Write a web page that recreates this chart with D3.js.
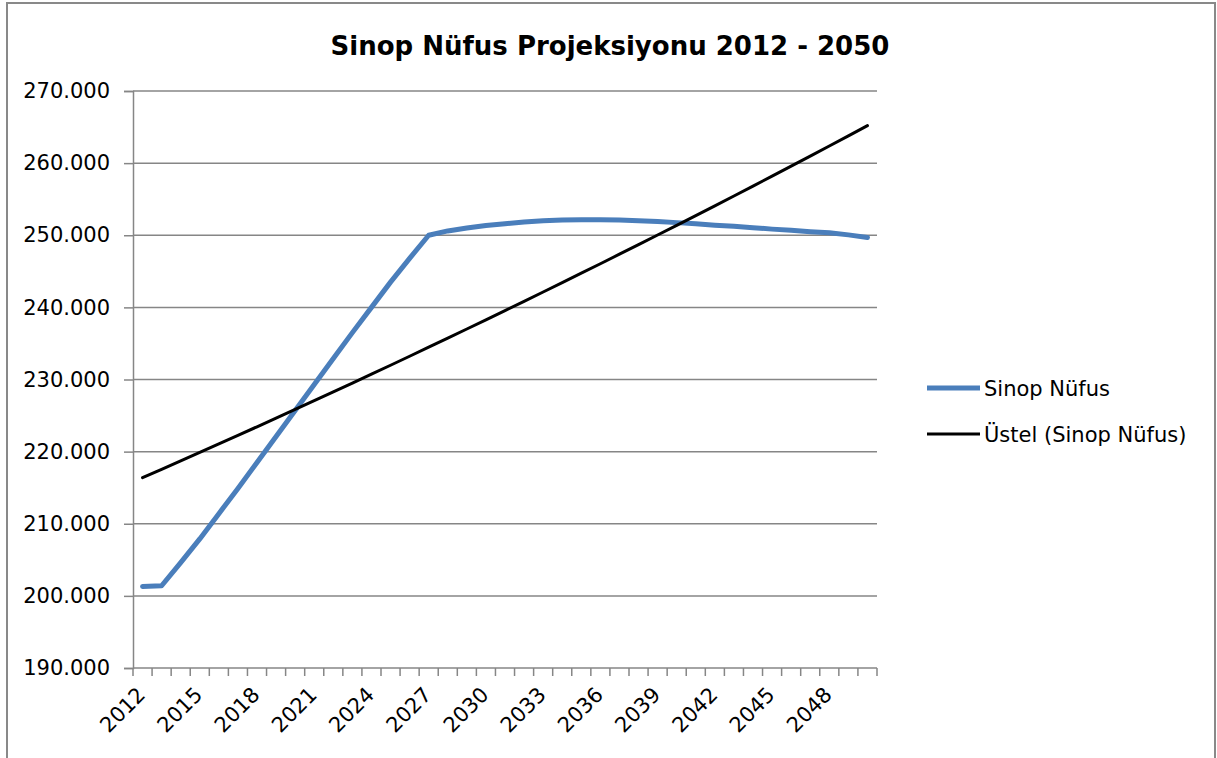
<!DOCTYPE html>
<html>
<head>
<meta charset="utf-8">
<script src="https://cdn.jsdelivr.net/npm/d3@7"></script>
<style>
  html, body { margin: 0; padding: 0; background: #fff; }
  svg { display: block; }
  text { font-family: "DejaVu Sans", Verdana, sans-serif; fill: #000; }
</style>
</head>
<body>
<svg id="chart" width="1217" height="758"></svg>
<script>
// years 2012..2050
const years = d3.range(2012, 2051);
const tickYears = [2012, 2015, 2018, 2021, 2024, 2027, 2030, 2033, 2036, 2039, 2042, 2045, 2048];
const yTicks = [190000, 200000, 210000, 220000, 230000, 240000, 250000, 260000, 270000];

// population
const population = [
  201300, 201400, 204600, 207900, 211400, 214900, 218500, 222100, 225700, 229300,
  232900, 236500, 240000, 243500, 246800, 250000, 250600, 251000, 251350, 251600,
  251850, 252000, 252100, 252150, 252150, 252100, 252000, 251900, 251750, 251600,
  251400, 251250, 251050, 250850, 250700, 250500, 250350, 250050, 249700
];

const seriesNames = ["Sinop Nüfus", "Üstel (Sinop Nüfus)"];
const colors = ["#4a7ebb", "#000000"];

// exponential trendline like excel: fit ln(y) = ln(a) + b*x with x = 1..n
function expTrend(vals) {
  const xs = vals.map((d, i) => i + 1);
  const ls = vals.map(v => Math.log(v));
  const mx = d3.mean(xs), ml = d3.mean(ls);
  let num = 0, den = 0;
  xs.forEach((x, i) => { num += (x - mx) * (ls[i] - ml); den += (x - mx) * (x - mx); });
  const b = num / den, a = ml - b * mx;
  return xs.map(x => Math.exp(a + b * x));
}
const trend = expTrend(population);

const svg = d3.select("#chart");

// outer frame
svg.append("rect")
  .attr("x", 7).attr("y", 3)
  .attr("width", 1208).attr("height", 800)
  .attr("fill", "none").attr("stroke", "#898989").attr("stroke-width", 2);

svg.append("text")
  .attr("x", 610).attr("y", 55)
  .attr("text-anchor", "middle")
  .style("font-size", "26px").style("font-weight", "bold")
  .text("Sinop Nüfus Projeksiyonu 2012 - 2050");

const x = d3.scaleBand()
  .domain(years)
  .range([133, 877]);

const y = d3.scaleLinear()
  .domain([190000, 270000])
  .range([668, 91]);

const trLocale = d3.formatLocale({decimal: ",", thousands: ".", grouping: [3], currency: ["", ""]});
const fmtInt = trLocale.format(",");

// gridlines
svg.append("g")
  .selectAll("line")
  .data(yTicks.slice(1))
  .join("line")
  .attr("x1", 133).attr("x2", 877)
  .attr("y1", d => y(d)).attr("y2", d => y(d))
  .attr("stroke", "#868686").attr("stroke-width", 1.5);

// y axis
const yAxis = svg.append("g")
  .attr("transform", "translate(133,0)")
  .call(d3.axisLeft(y).tickValues(yTicks).tickSize(9).tickPadding(14).tickFormat(fmtInt));
yAxis.select(".domain").attr("stroke", "#868686").attr("stroke-width", 1.5);
yAxis.selectAll(".tick line").attr("stroke", "#868686").attr("stroke-width", 1.5);
yAxis.selectAll(".tick text")
  .style("font-family", "'DejaVu Sans', Verdana, sans-serif")
  .style("font-size", "21px").attr("fill", "#000");

// x axis: ticks between categories
const xAxisG = svg.append("g");
xAxisG.append("line")
  .attr("x1", 133).attr("x2", 877).attr("y1", 668).attr("y2", 668)
  .attr("stroke", "#868686").attr("stroke-width", 1.5);
xAxisG.selectAll(".xt")
  .data(years)
  .join("line")
  .attr("class", "xt")
  .attr("x1", d => x(d)).attr("x2", d => x(d))
  .attr("y1", 668).attr("y2", 676)
  .attr("stroke", "#868686").attr("stroke-width", 1.5);
xAxisG.append("line")
  .attr("x1", 877).attr("x2", 877).attr("y1", 668).attr("y2", 676)
  .attr("stroke", "#868686").attr("stroke-width", 1.5);
xAxisG.selectAll(".xl")
  .data(tickYears)
  .join("text")
  .attr("class", "xl")
  .attr("text-anchor", "end")
  .attr("transform", d => `translate(${x(d) + x.bandwidth() / 2 + 4},${696}) rotate(-45)`)
  .style("font-size", "21px")
  .text(d => d);

const cx = d => x(d) + x.bandwidth() / 2;

const line = d3.line()
  .x((d, i) => cx(years[i]))
  .y(d => y(d));

svg.append("path")
  .datum(population)
  .attr("fill", "none")
  .attr("stroke", colors[0])
  .attr("stroke-width", 5)
  .attr("stroke-linejoin", "round")
  .attr("stroke-linecap", "round")
  .attr("d", line);

svg.append("path")
  .datum(trend)
  .attr("fill", "none")
  .attr("stroke", colors[1])
  .attr("stroke-width", 3)
  .attr("stroke-linecap", "round")
  .attr("d", line);

// legend
const legend = svg.append("g");
seriesNames.forEach((name, i) => {
  const ly = 388 + i * 46;
  legend.append("line")
    .attr("x1", 927).attr("x2", 980)
    .attr("y1", ly).attr("y2", ly)
    .attr("stroke", colors[i])
    .attr("stroke-width", i === 0 ? 5 : 3);
  legend.append("text")
    .attr("x", 984).attr("y", ly + 8)
    .style("font-size", "21px")
    .text(name);
});
</script>
</body>
</html>
